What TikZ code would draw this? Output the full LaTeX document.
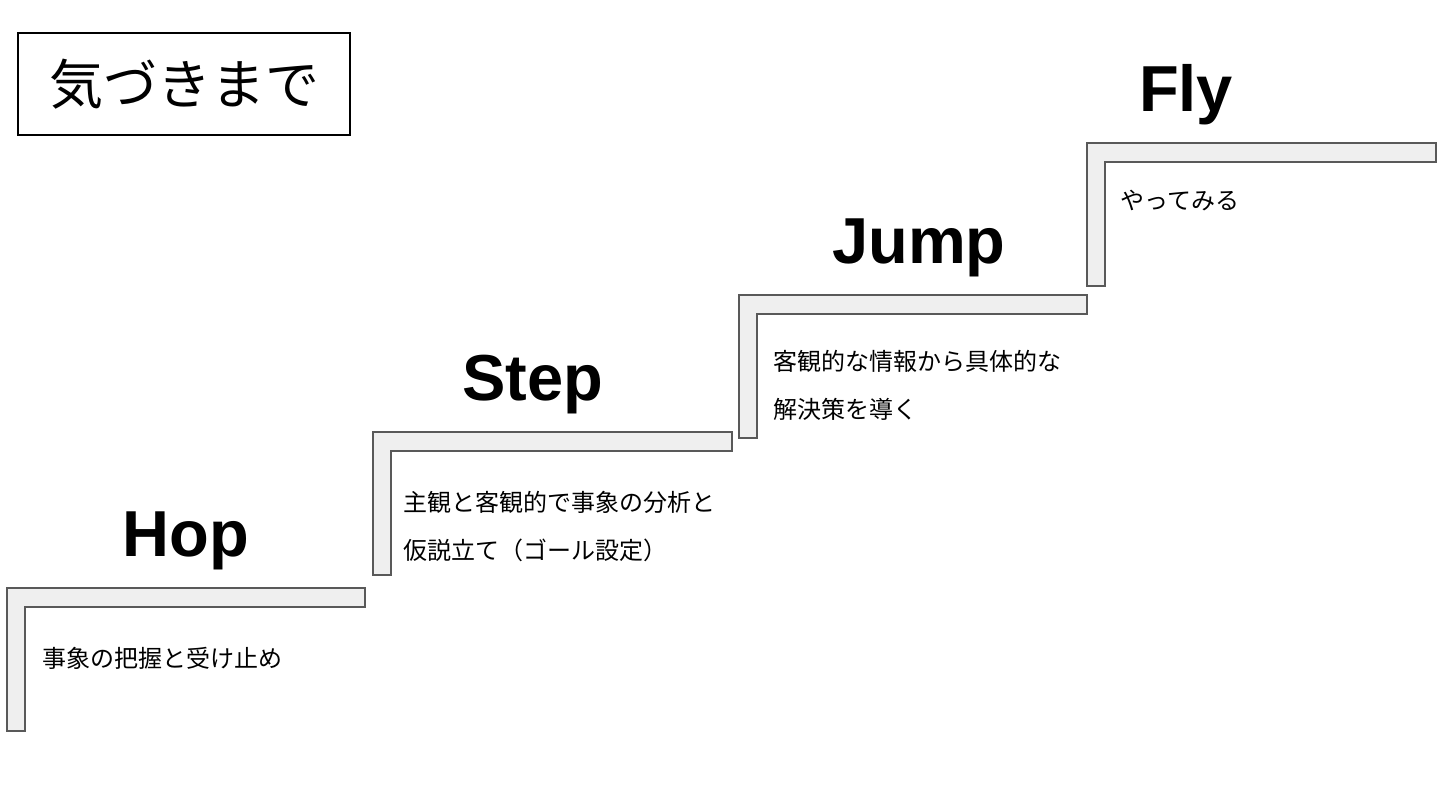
\documentclass[tikz,border=0pt]{standalone}
\usepackage{fontspec}
\setmainfont{Liberation Sans}
\newfontfamily\jpfont{Noto Sans CJK JP}
\usetikzlibrary{calc}
\definecolor{stairfill}{HTML}{EFEFEF}
\definecolor{stairedge}{HTML}{595959}
\tikzset{
	stairline/.style={draw=stairedge, fill=stairfill, line width=0.8pt, line join=miter},
	headline/.style={anchor=base, inner sep=0, font=\bfseries\fontsize{32.5}{32.5}\selectfont},
	stairtext/.style={anchor=west, inner sep=0, align=left, font=\jpfont\fontsize{12}{24}\selectfont},
	titlebox/.style={draw=black, line width=0.8pt, minimum width=166pt, minimum height=51pt, inner sep=0, font=\jpfont\fontsize{27}{27}\selectfont}
}
\def\stair(#1,#2,#3){\draw[stairline] (#1,#2) -- ++(#3,0) -- ++(0,19) -- ++({18-#3},0) -- ++(0,124) -- ++(-18,0) -- cycle;}

\begin{document}
\begin{tikzpicture}[x=0.5pt, y=-0.5pt]
			%%%%% START %%%%%
			\useasboundingbox[fill=white] (0,0) rectangle (1440,810);
			
			\node[titlebox] (kizuki) at (184,84) {気づきまで};
			
			\stair(7,588,358);
			\node[headline] (hop) at (186,556) {Hop};
			\node[stairtext] (hoptext) at (42,658) {事象の把握と受け止め};
			
			\stair(373,432,359);
			\node[headline] (step) at (533,400) {Step};
			\node[stairtext] (steptext) at (403,527) {主観と客観的で事象の分析と\\仮説立て（ゴール設定）};
			
			\stair(739,295,348);
			\node[headline] (jump) at (919,263) {Jump};
			\node[stairtext] (jumptext) at (773,385) {客観的な情報から具体的な\\解決策を導く};
			
			\stair(1087,143,349);
			\node[headline] (fly) at (1186,111) {Fly};
			\node[stairtext] (flytext) at (1120,201) {やってみる};
			%%%%% END %%%%%
\end{tikzpicture}
\end{document}
